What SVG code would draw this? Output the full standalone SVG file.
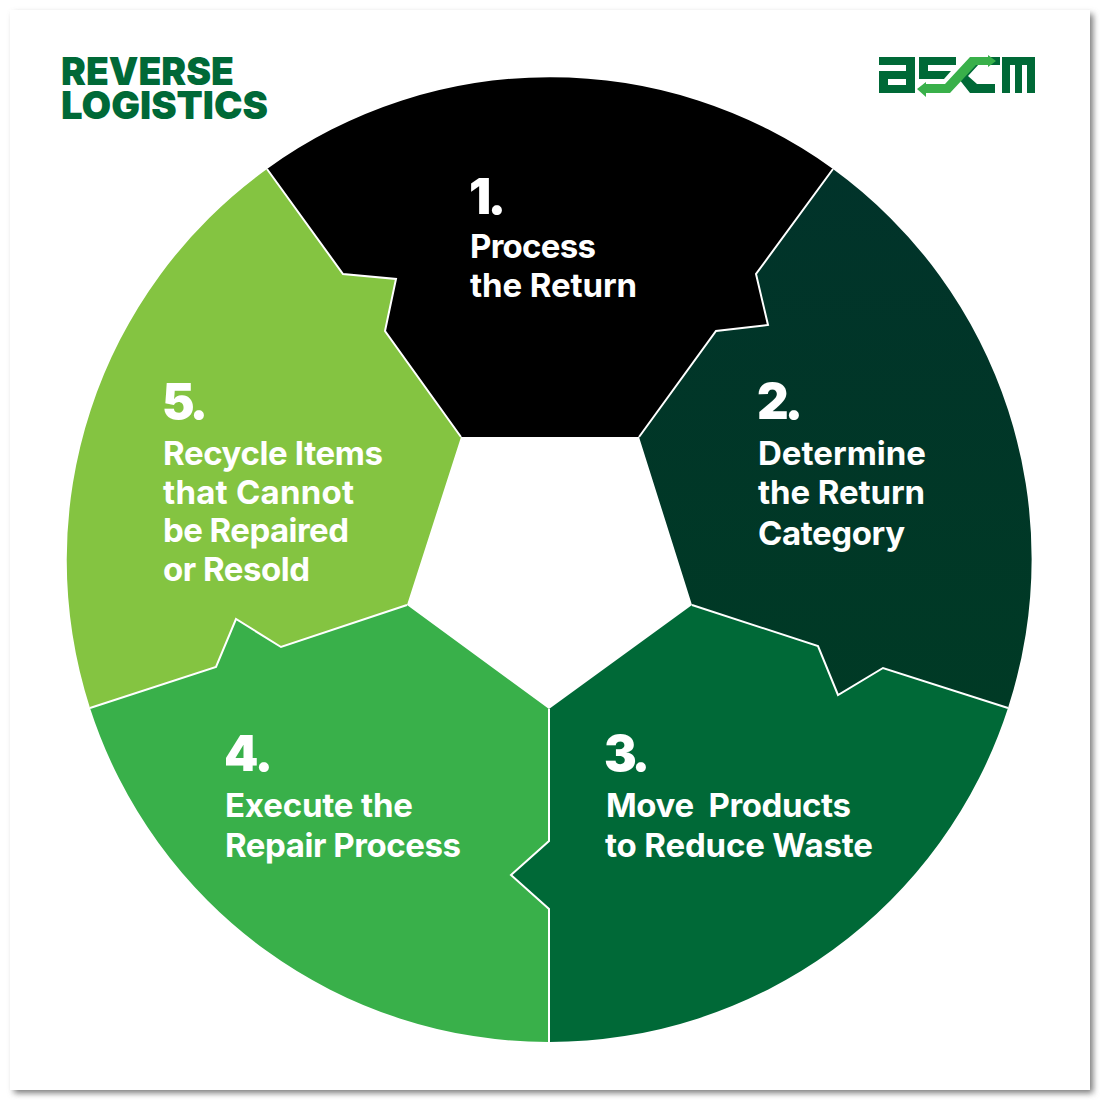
<svg xmlns="http://www.w3.org/2000/svg" width="1100" height="1100" viewBox="0 0 1100 1100">
<style>
.div{stroke:#fff;stroke-width:2;fill:none;stroke-linejoin:miter}
.n{font-family:"Inter",sans-serif;font-weight:900;font-size:49px;fill:#fff}
.t{font-family:"Inter",sans-serif;font-weight:700;font-size:33px;fill:#fff}
.h{font-family:"Inter",sans-serif;font-weight:900;font-size:39px;fill:#006937}
</style>
<defs>
<linearGradient id="g2" x1="0" y1="0" x2="0" y2="1"><stop offset="0" stop-color="#01332a"/><stop offset="1" stop-color="#003a25"/></linearGradient>
<filter id="sh" x="-5%" y="-5%" width="110%" height="110%"><feGaussianBlur stdDeviation="3"/></filter>
</defs>
<rect width="1100" height="1100" fill="#fff"/>
<rect x="14" y="14" width="1079" height="1079" fill="#777" filter="url(#sh)"/>
<rect x="10" y="10" width="1080" height="1080" fill="#fff"/>
<g id="node-1"><path fill="#000" d="M267 169A482 482 0 0 1 833 169L756 274L768 325L716 331L639 437H461L385 331L396 279L343 274Z"/>
<text class="n" x="469" y="214" textLength="37">1.</text><text class="t" x="470" y="258" textLength="126">Process</text><text class="t" x="470" y="297" textLength="167">the Return</text></g>
<g id="node-2"><path fill="url(#g2)" d="M833 169A482 482 0 0 1 1008 708L883 668L838 695L818 646L692 605L639 437L716 331L768 325L756 274Z"/>
<text class="n" x="757" y="419" textLength="46">2.</text><text class="t" x="758" y="465" textLength="168">Determine</text><text class="t" x="758" y="504" textLength="167">the Return</text><text class="t" x="758" y="545" textLength="147">Category</text></g>
<g id="node-3"><path fill="#006937" d="M1008 708A482 482 0 0 1 549 1042V909L511 875L549 841V709L692 605L818 646L838 695L883 668Z"/>
<text class="n" x="604" y="771" textLength="46">3.</text><text class="t" x="606" y="817" textLength="245" xml:space="preserve">Move  Products</text><text class="t" x="605" y="857" textLength="268">to Reduce Waste</text></g>
<g id="node-4"><path fill="#39b04a" d="M549 1042A482 482 0 0 1 90 708L216 667L236 619L281 647L407 605L549 709V841L511 875L549 909Z"/>
<text class="n" x="224" y="771" textLength="49">4.</text><text class="t" x="225" y="817" textLength="188">Execute the</text><text class="t" x="225" y="857" textLength="236">Repair Process</text></g>
<g id="node-5"><path fill="#84c441" d="M90 708A482 482 0 0 1 267 169L343 274L396 279L385 331L461 437L407 605L281 647L236 619L216 667Z"/>
<text class="n" x="162" y="419" textLength="46">5.</text><text class="t" x="163" y="465" textLength="220">Recycle Items</text><text class="t" x="163" y="504" textLength="191">that Cannot</text><text class="t" x="163" y="542" textLength="186">be Repaired</text><text class="t" x="163" y="581" textLength="147">or Resold</text></g>
<g id="connectors">
<path class="div" d="M267 169L343 274L396 279L385 331L461 437"/>
<path class="div" d="M833 169L756 274L768 325L716 331L639 437"/>
<path class="div" d="M1008 708L883 668L838 695L818 646L692 605"/>
<path class="div" d="M549 1042V909L511 875L549 841V709"/>
<path class="div" d="M90 708L216 667L236 619L281 647L407 605"/>
</g>
<g id="title"><text class="h" x="61" y="85" textLength="173" lengthAdjust="spacingAndGlyphs">REVERSE</text><text class="h" x="61" y="119" textLength="207" lengthAdjust="spacingAndGlyphs">LOGISTICS</text></g>
<g id="logo" fill="#006937">
<path fill-rule="evenodd" d="M879 57H915V93H879V71H906V65H879ZM888 79V85H906V79Z"/>
<path d="M919 57H956V65H928V71H951L944 79H919Z"/>
<path d="M975 57H1000V65H975ZM985 64H979L968 76L977 84H995V93H970L959 79L975 60H985Z"/>
<path d="M1002 57H1035V93H1027V65H1022V93H1015V65H1010V93H1002Z"/>
<path fill="#39b04a" d="M996 61L988 55V57H970L945 84H926V82L917 89L926 97V93H950L976 65H988V67Z"/>
</g>
</svg>
